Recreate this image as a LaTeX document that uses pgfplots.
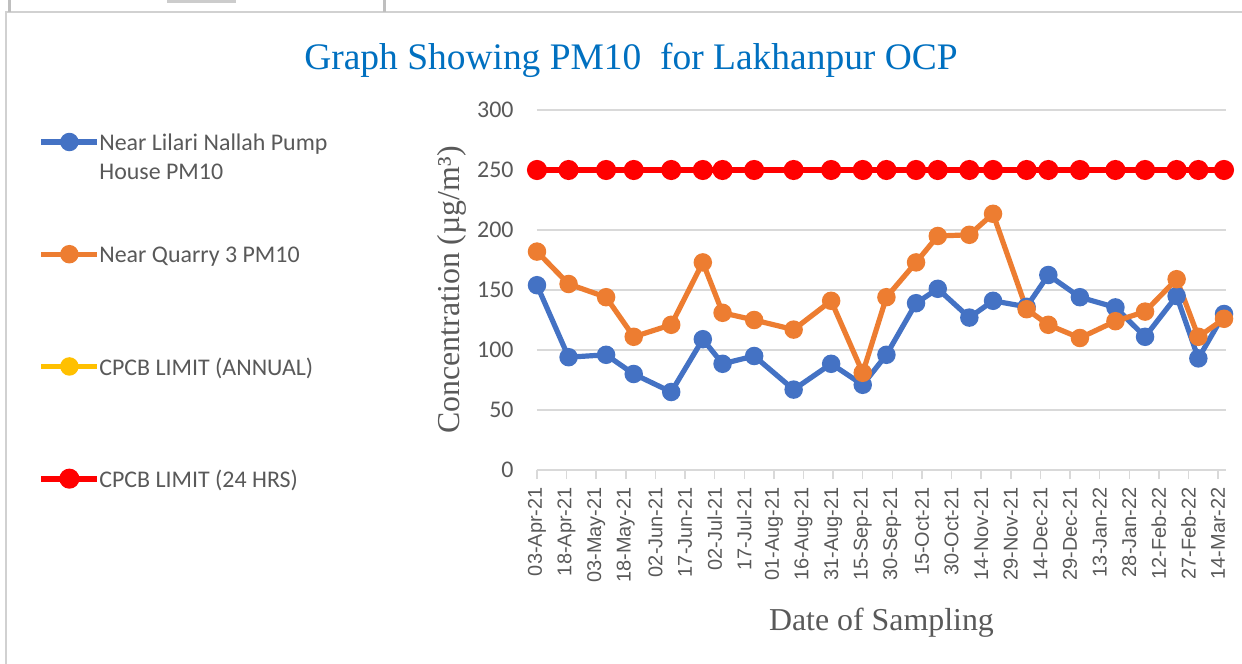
\documentclass[border=0pt]{standalone}
\usepackage{fontspec}
\setmainfont{Liberation Serif}
\newfontfamily\calibri{Carlito}
\newfontfamily\arialf{Liberation Sans}
\usepackage{pgfplots}
\pgfplotsset{compat=1.18}
\definecolor{cBlue}{HTML}{4472C4}
\definecolor{cOrange}{HTML}{ED7D31}
\definecolor{cYellow}{HTML}{FFC000}
\definecolor{cRed}{HTML}{FF0000}
\definecolor{cText}{HTML}{595959}
\definecolor{cGrid}{HTML}{D9D9D9}
\definecolor{cTitle}{HTML}{0070C0}

% x = days since 03-Apr-21
\pgfplotstableread{
x    lilari quarry limit
0    154    182    250
16   94     155    250
35   96     144    250
49   80     111    250
68   65     121    250
84   109    173    250
94   88.5   131    250
110  95     125    250
130  67     117    250
149  88.5   141    250
165  71     81     250
177  96     144    250
192  139    173    250
203  151    195    250
219  127    196    250
231  141    213.5  250
248  136    134    250
259  162.5  121    250
275  144    110    250
293  135.5  124    250
308  111    132    250
324  145    159    250
335  93     111    250
348  130    126    250
}\pmdata

\begin{document}
\begin{tikzpicture}
\fill[white] (-268.5bp,-97bp) rectangle (352.5bp,235bp);
\path[use as bounding box] (-268.5bp,-97bp) rectangle (352.5bp,235bp);
\draw[black!18, line width=1bp] (-265.5bp,-97bp) -- (-265.5bp,229bp) -- (352.5bp,229bp);
\draw[black!25, line width=1.5bp] (-263.5bp,229bp) -- (-263.5bp,235bp);
\draw[black!25, line width=1.5bp] (-76bp,229bp) -- (-76bp,235bp);
\fill[black!20] (-185bp,233.5bp) rectangle (-150.5bp,235bp);
\begin{axis}[
    scale only axis, width=344.5bp, height=180bp,
    at={(0,0)}, anchor=south west,
    xmin=0, xmax=349, ymin=0, ymax=300,
    axis x line*=bottom, axis y line*=left,
    x axis line style={cGrid, line width=0.75bp},
    y axis line style={draw=none},
    ytick={0,50,...,300},
    ymajorgrids, grid style={cGrid, line width=0.75bp},
    ytick style={draw=none},
    xtick={0,15,...,345},
    xticklabels={03-Apr-21,18-Apr-21,03-May-21,18-May-21,02-Jun-21,17-Jun-21,02-Jul-21,17-Jul-21,01-Aug-21,16-Aug-21,31-Aug-21,15-Sep-21,30-Sep-21,15-Oct-21,30-Oct-21,14-Nov-21,29-Nov-21,14-Dec-21,29-Dec-21,13-Jan-22,28-Jan-22,12-Feb-22,27-Feb-22,14-Mar-22},
    tick align=outside, major tick length=4.5bp,
    xtick style={cGrid, line width=0.75bp},
    xticklabel style={yshift=-4bp, rotate=90, anchor=east, inner sep=0pt,
        font=\arialf\fontsize{10}{12}\selectfont, text=cText},
    yticklabel style={inner sep=0pt, xshift=-7bp, anchor=east,
        font=\calibri\fontsize{12}{13}\selectfont, text=cText},
    /pgf/number format/assume math mode=true,
    xlabel={Date of Sampling},
    xlabel style={at={([yshift=-76.5bp]axis description cs:0.5,0)}, anchor=center,
        font=\fontsize{16}{19}\selectfont, text=cText},
    ylabel={Concentration (µg/m³)},
    ylabel style={at={([xshift=-42.5bp]axis description cs:0,0.5)}, anchor=center,
        font=\fontsize{16}{19}\selectfont, text=cText},
    legend style={at={(axis description cs:0,1)}, anchor=north west,
        xshift=-249.5bp, yshift=-10bp, draw=none, fill=none,
        font=\calibri\fontsize{12}{14.5}\selectfont, text=cText,
        inner sep=0pt, row sep=44.5bp, column sep=-0.5bp,
        nodes={inner sep=0pt}},
    legend cell align=left,
    legend image code/.code={\draw[mark repeat=2, mark phase=2, #1]
        plot coordinates {(0bp,0bp) (14bp,0bp) (28bp,0bp)};},
    clip=false,
]
\addplot[cBlue, line width=2.6bp, mark=*, mark size=3.3bp, mark options={solid}]
    table[x=x, y=lilari] {\pmdata};
\addlegendentry{\begin{tabular}[t]{@{}l@{}}Near Lilari Nallah Pump\\House PM10\end{tabular}}
\addplot[cOrange, line width=2.6bp, mark=*, mark size=3.3bp, mark options={solid}]
    table[x=x, y=quarry] {\pmdata};
\addlegendentry{\begin{tabular}[t]{@{}l@{}}Near Quarry 3 PM10\\\mbox{}\end{tabular}}
\addlegendimage{cYellow, line width=2.6bp, mark=*, mark size=3.3bp, mark options={solid}}
\addlegendentry{\begin{tabular}[t]{@{}l@{}}CPCB LIMIT (ANNUAL)\\\mbox{}\end{tabular}}
\addplot[cRed, line width=3bp, mark=*, mark size=3.5bp, mark options={solid}]
    table[x=x, y=limit] {\pmdata};
\addlegendentry{\begin{tabular}[t]{@{}l@{}}CPCB LIMIT (24 HRS)\\\mbox{}\end{tabular}}
\end{axis}
\node[font=\fontsize{18.8}{22}\selectfont, text=cTitle] at (47bp,205bp)
    {Graph Showing PM10\ \ for Lakhanpur OCP};
\end{tikzpicture}
\end{document}
